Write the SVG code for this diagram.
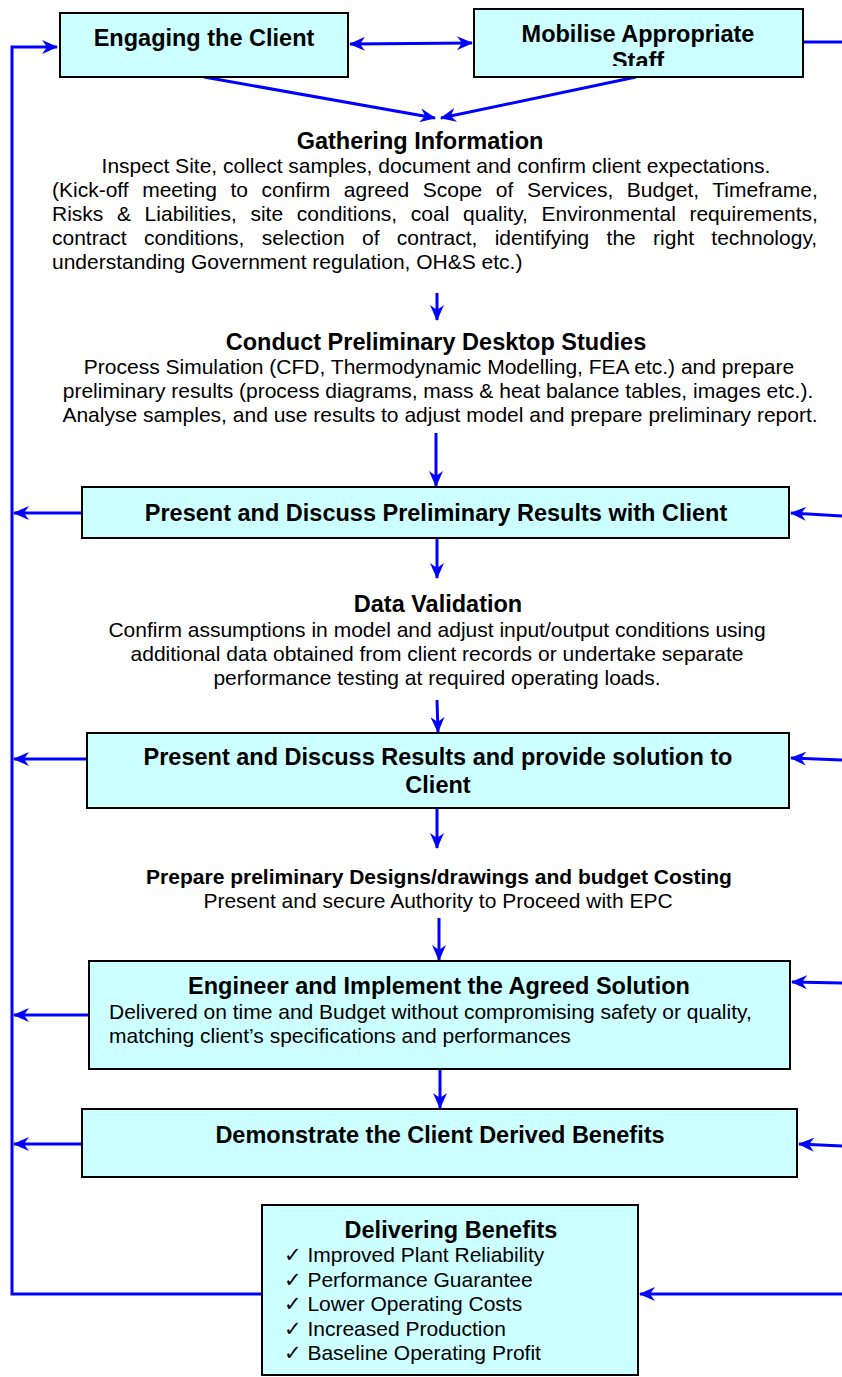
<svg xmlns="http://www.w3.org/2000/svg" width="842" height="1377" viewBox="0 0 842 1377">
<style>
.box{fill:#CCFFFF;stroke:#000;stroke-width:2}
.c{stroke:#0000FF;stroke-width:3;fill:none}
.t{font-family:"Liberation Sans","DejaVu Sans",Arial,sans-serif;fill:#000}
.b{font-weight:bold;font-size:23.5px}
.s{font-weight:bold;font-size:21px}
.r{font-size:21px}
.m{text-anchor:middle}
</style>
<defs>
<marker id="ah" markerUnits="userSpaceOnUse" viewBox="0 0 16 14" markerWidth="16" markerHeight="14" refX="15" refY="7" orient="auto-start-reverse">
<path d="M0,0 L16,7 L0,14 L5,7 Z" fill="#0000FF"/>
</marker>
<clipPath id="mobclip"><rect x="474" y="9" width="329" height="57"/></clipPath>
</defs>
<rect width="842" height="1377" fill="#fff"/>

<g id="connectors">
<polyline class="c" points="262,1294 12,1294 12,47 57,47" marker-end="url(#ah)"/>
<line class="c" x1="350" y1="44" x2="472" y2="43" marker-start="url(#ah)" marker-end="url(#ah)"/>
<line class="c" x1="803" y1="42" x2="842" y2="42"/>
<line class="c" x1="204" y1="77" x2="435" y2="118" marker-end="url(#ah)"/>
<line class="c" x1="636" y1="77" x2="441" y2="118" marker-end="url(#ah)"/>
<line class="c" x1="437" y1="293" x2="437" y2="320" marker-end="url(#ah)"/>
<line class="c" x1="436" y1="433" x2="436" y2="486" marker-end="url(#ah)"/>
<line class="c" x1="437" y1="539" x2="437" y2="578" marker-end="url(#ah)"/>
<line class="c" x1="437" y1="700" x2="438" y2="732" marker-end="url(#ah)"/>
<line class="c" x1="437" y1="809" x2="437" y2="848" marker-end="url(#ah)"/>
<line class="c" x1="439" y1="918" x2="439" y2="960" marker-end="url(#ah)"/>
<line class="c" x1="440" y1="1070" x2="440" y2="1108" marker-end="url(#ah)"/>
<line class="c" x1="81" y1="513" x2="14" y2="513" marker-end="url(#ah)"/>
<line class="c" x1="86" y1="759" x2="14" y2="759" marker-end="url(#ah)"/>
<line class="c" x1="88" y1="1015" x2="14" y2="1015" marker-end="url(#ah)"/>
<line class="c" x1="81" y1="1144" x2="14" y2="1144" marker-end="url(#ah)"/>
<line class="c" x1="842" y1="516" x2="791" y2="513" marker-end="url(#ah)"/>
<line class="c" x1="842" y1="760" x2="791" y2="758" marker-end="url(#ah)"/>
<line class="c" x1="842" y1="983" x2="792" y2="982" marker-end="url(#ah)"/>
<line class="c" x1="842" y1="1146" x2="799" y2="1144" marker-end="url(#ah)"/>
<line class="c" x1="842" y1="1294" x2="640" y2="1294" marker-end="url(#ah)"/>
</g>

<g id="engaging">
<rect class="box" x="60" y="13" width="288" height="64"/>
<text class="t b m" x="204" y="46">Engaging the Client</text>
</g>

<g id="mobilise">
<rect class="box" x="474" y="9" width="329" height="68"/>
<g clip-path="url(#mobclip)">
<text class="t b m" x="638" y="42">Mobilise Appropriate</text>
<text class="t b m" x="638" y="69">Staff</text>
</g>
</g>

<g id="gathering">
<text class="t b m" x="420" y="149">Gathering Information</text>
<text class="t r m" x="436" y="173">Inspect Site, collect samples, document and confirm client expectations.</text>
<text class="t r" x="52" y="197" word-spacing="7.7">(Kick-off meeting to confirm agreed Scope of Services, Budget, Timeframe,</text>
<text class="t r" x="52" y="221" word-spacing="7.8">Risks &amp; Liabilities, site conditions, coal quality, Environmental requirements,</text>
<text class="t r" x="52" y="245" word-spacing="11.5">contract conditions, selection of contract, identifying the right technology,</text>
<text class="t r" x="52" y="269">understanding Government regulation, OH&amp;S etc.)</text>
</g>

<g id="conduct">
<text class="t b m" x="436" y="350">Conduct Preliminary Desktop Studies</text>
<text class="t r m" x="439" y="374">Process Simulation (CFD, Thermodynamic Modelling, FEA etc.) and prepare</text>
<text class="t r m" x="438" y="398">preliminary results (process diagrams, mass &amp; heat balance tables, images etc.).</text>
<text class="t r m" x="440" y="422">Analyse samples, and use results to adjust model and prepare preliminary report.</text>
</g>

<g id="present-prelim">
<rect class="box" x="82" y="487" width="707" height="51"/>
<text class="t b m" x="436" y="521">Present and Discuss Preliminary Results with Client</text>
</g>

<g id="data-validation">
<text class="t b m" x="438" y="612">Data Validation</text>
<text class="t r m" x="437" y="637">Confirm assumptions in model and adjust input/output conditions using</text>
<text class="t r m" x="437" y="661">additional data obtained from client records or undertake separate</text>
<text class="t r m" x="437" y="685">performance testing at required operating loads.</text>
</g>

<g id="present-results">
<rect class="box" x="87" y="733" width="702" height="75"/>
<text class="t b m" x="438" y="765">Present and Discuss Results and provide solution to</text>
<text class="t b m" x="438" y="793">Client</text>
</g>

<g id="prepare">
<text class="t s m" x="439" y="884">Prepare preliminary Designs/drawings and budget Costing</text>
<text class="t r m" x="438" y="908">Present and secure Authority to Proceed with EPC</text>
</g>

<g id="engineer">
<rect class="box" x="89" y="961" width="701" height="108"/>
<text class="t b m" x="439" y="994">Engineer and Implement the Agreed Solution</text>
<text class="t r" x="109" y="1019">Delivered on time and Budget without compromising safety or quality,</text>
<text class="t r" x="109" y="1043">matching client’s specifications and performances</text>
</g>

<g id="demonstrate">
<rect class="box" x="82" y="1109" width="715" height="68"/>
<text class="t b m" x="440" y="1143">Demonstrate the Client Derived Benefits</text>
</g>

<g id="delivering">
<rect class="box" x="262" y="1205" width="376" height="170"/>
<text class="t b m" x="451" y="1238">Delivering Benefits</text>
<text class="t r" x="284" y="1262">✓ Improved Plant Reliability</text>
<text class="t r" x="284" y="1287">✓ Performance Guarantee</text>
<text class="t r" x="284" y="1311">✓ Lower Operating Costs</text>
<text class="t r" x="284" y="1336">✓ Increased Production</text>
<text class="t r" x="284" y="1360">✓ Baseline Operating Profit</text>
</g>
</svg>
